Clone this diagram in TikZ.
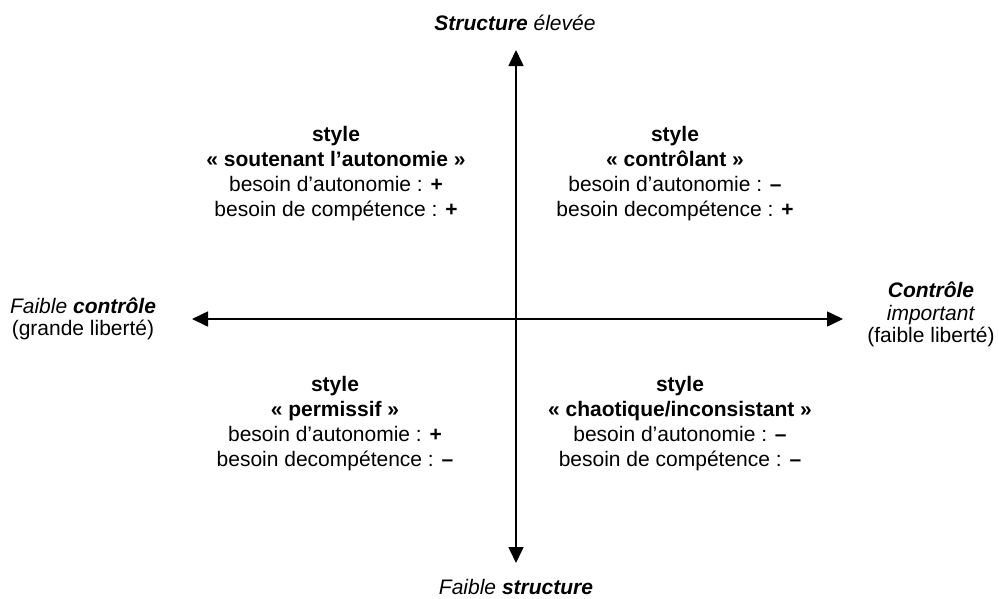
\documentclass[tikz,border=0pt]{standalone}
\usepackage{fontspec}
\setmainfont{Liberation Sans}
\usetikzlibrary{arrows.meta}
\begin{document}
\begin{tikzpicture}[x=1pt,y=-1pt,
  quad/.style={align=center,inner sep=0pt,anchor=north,font=\fontsize{21}{25}\selectfont},
  lab/.style={align=center,inner sep=0pt,font=\fontsize{21}{22.5}\selectfont},
  axis/.style={line width=1.6pt,{Triangle[width=15pt,length=16pt]}-{Triangle[width=15pt,length=16pt]}}]
\useasboundingbox (0,0) rectangle (999,598);
\coordinate (ytop) at (516,50);
\coordinate (ybot) at (516,563);
\coordinate (xleft) at (192,319);
\coordinate (xright) at (843,319);
\draw[axis] (ybot) -- (ytop);
\draw[axis] (xleft) -- (xright);
\node[lab,anchor=base] (ttop) at (515,30) {\textbf{\textit{Structure}} \textit{élevée}};
\node[lab,anchor=base] (tbot) at (516,594) {\textit{Faible} \textbf{\textit{structure}}};
\node[lab,anchor=north] (tleft) at (83,297.5) {\textit{Faible} \textbf{\textit{contrôle}}\\(grande liberté)};
\node[lab,anchor=north] (tright) at (931,282) {\textbf{\textit{Contrôle}}\\\textit{important}\\(faible liberté)};
\node[quad] (q1) at (336,126) {\textbf{style}\\\textbf{« soutenant l’autonomie »}\\besoin d’autonomie : \textbf{+}\\besoin de compétence : \textbf{+}};
\node[quad] (q2) at (675,126) {\textbf{style}\\\textbf{« contrôlant »}\\besoin d’autonomie : \textbf{–}\\besoin decompétence : \textbf{+}};
\node[quad] (q3) at (335,376) {\textbf{style}\\\textbf{« permissif »}\\besoin d’autonomie : \textbf{+}\\besoin decompétence : \textbf{–}};
\node[quad] (q4) at (680,376) {\textbf{style}\\\textbf{« chaotique/inconsistant »}\\besoin d’autonomie : \textbf{–}\\besoin de compétence : \textbf{–}};
\end{tikzpicture}
\end{document}
